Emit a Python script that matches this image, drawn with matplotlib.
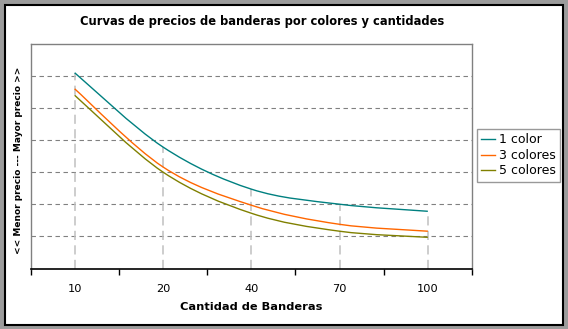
import numpy as np
import matplotlib
matplotlib.use("Agg")
import matplotlib.pyplot as plt
from matplotlib.path import Path
from matplotlib.patches import PathPatch, Rectangle
from matplotlib.lines import Line2D

plt.rcParams['font.family'] = ['DejaVu Sans']

# price curves (relative scale, no units shown on the axis)
cantidades = ["10", "20", "40", "70", "100"]
precio_1_color = [6.09, 3.78, 2.47, 2.00, 1.78]
precio_3_colores = [5.59, 3.16, 1.97, 1.375, 1.16]
precio_5_colores = [5.39, 3.00, 1.72, 1.16, 0.97]
series = [
    ("1 color", precio_1_color, "#008080"),
    ("3 colores", precio_3_colores, "#FF6600"),
    ("5 colores", precio_5_colores, "#808000"),
]

W, H = 568, 329


def fx(px):
    return px / W


def fy(py):
    return 1 - py / H


def smooth_path(x, y):
    # Catmull-Rom style cubic bezier through every point
    pts = np.column_stack([x, y]).astype(float)
    n = len(pts)
    verts = [pts[0]]
    codes = [Path.MOVETO]
    for i in range(n - 1):
        p0 = pts[max(i - 1, 0)]
        p1 = pts[i]
        p2 = pts[i + 1]
        p3 = pts[min(i + 2, n - 1)]
        c1 = p1 + (p2 - p0) / 6.0
        c2 = p2 - (p3 - p1) / 6.0
        verts += [c1, c2, p2]
        codes += [Path.CURVE4] * 3
    return Path(verts, codes)


fig = plt.figure(figsize=(W / 100, H / 100), dpi=100)
fig.patch.set_facecolor("#9c9c9c")
fig.patches.append(Rectangle((fx(4.5), fy(324.5)), fx(563) - fx(4.5), fy(4.5) - fy(324.5),
                             transform=fig.transFigure, facecolor="white",
                             edgecolor="black", linewidth=1.5, zorder=-5))

ax = fig.add_axes([fx(30.5), fy(268.5), fx(472) - fx(30.5), fy(43.5) - fy(268.5)])
ax.set_facecolor("white")
ax.set_xlim(-0.5, len(cantidades) - 0.5)
ax.set_ylim(0, 7)

for y in range(1, 7):
    ax.axhline(y, color="#808080", lw=0.8, ls=(0, (4, 3.2)), zorder=1)

xpos = np.arange(len(cantidades))
tops = np.max([s[1] for s in series], axis=0)
ax.vlines(xpos, 0, tops, colors="#c0c0c0", lw=1.1, linestyles=(0, (6, 3.5)), zorder=2)

for name, vals, col in series:
    ax.add_patch(PathPatch(smooth_path(xpos, vals), facecolor="none",
                           edgecolor=col, lw=1.0, zorder=3))

ax.set_xticks(xpos, cantidades)
ax.tick_params(axis="x", which="major", length=0, pad=11, labelsize=8.2, labelcolor="black")
ax.set_xticks(np.arange(-0.5, len(cantidades)), minor=True)
ax.tick_params(axis="x", which="minor", length=4, width=1, color="black", direction="out")
ax.set_yticks([])

for side in ("left", "top", "right"):
    ax.spines[side].set_color("#808080")
    ax.spines[side].set_linewidth(1)
ax.spines["bottom"].set_color("black")
ax.spines["bottom"].set_linewidth(1.2)

fig.text(fx(262), fy(22), "Curvas de precios de banderas por colores y cantidades",
         ha="center", va="center", fontsize=8.3, fontweight="bold")
fig.text(fx(251), fy(307), "Cantidad de Banderas", ha="center", va="center",
         fontsize=8.2, fontweight="bold")
fig.text(fx(19), fy(160), "<< Menor precio --- Mayor precio >>", ha="center", va="center",
         rotation=90, fontsize=6.5, fontweight="bold")

handles = [Line2D([], [], color=c, lw=1.0) for _, _, c in series]
leg = fig.legend(handles, [s[0] for s in series], loc="upper left",
                 bbox_to_anchor=(fx(477), fy(129)), bbox_transform=fig.transFigure,
                 fontsize=9.0, frameon=True, fancybox=False, borderpad=0.35,
                 handlelength=1.1, handletextpad=0.3, labelspacing=0.2, borderaxespad=0)
leg.get_frame().set_edgecolor("#808080")
leg.get_frame().set_linewidth(1)

fig.savefig("out.png", dpi=100, facecolor=fig.get_facecolor())
